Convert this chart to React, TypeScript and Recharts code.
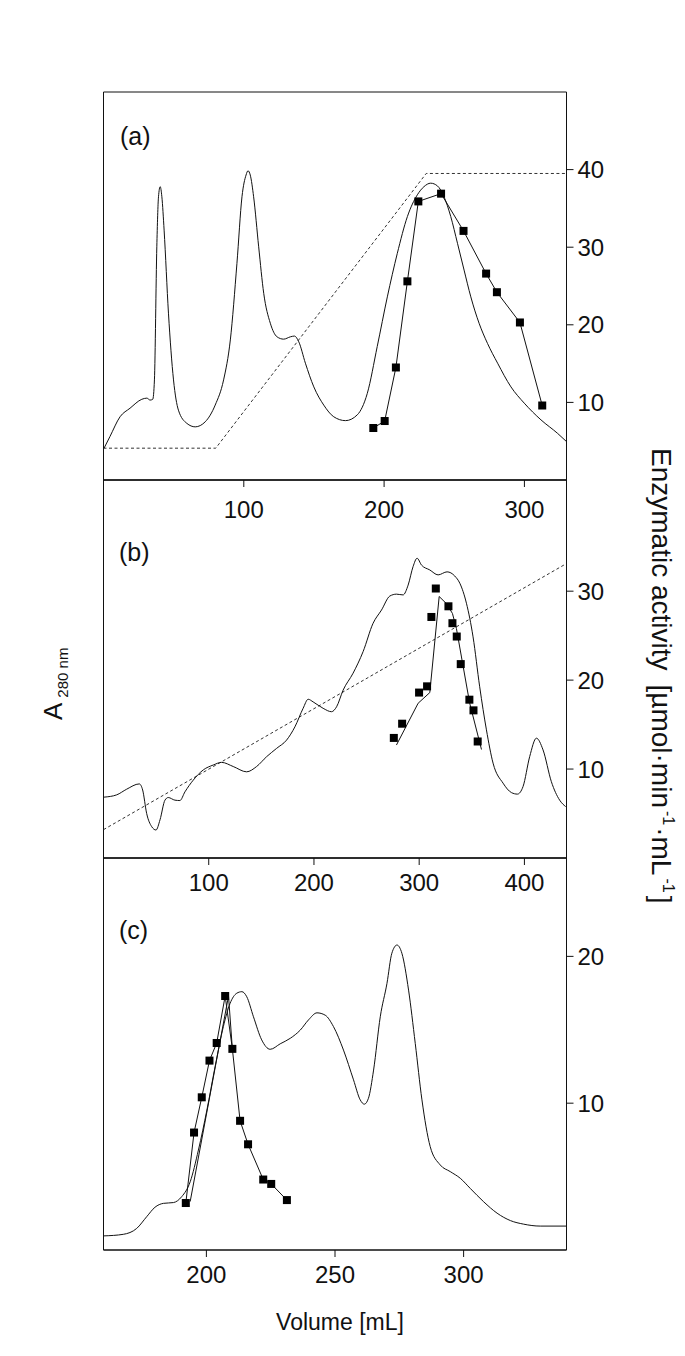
import React from 'react';
import { ComposedChart, Line, ReferenceArea, XAxis, YAxis } from 'recharts';

// ---- panel (a) ----
const volA = [0.4, 4.6, 11.8, 18.9, 27.3, 30.9, 33.2, 35.1, 36.3, 38, 39.2, 40.4, 41.6, 43.2, 46.3, 49.9, 53.4, 59.4, 65.4, 72.5, 79.6, 85.6, 90.4, 95.1, 98.7, 101.6, 103, 104.6, 107, 110.6, 114.2, 118.9, 123.7, 128.4, 133.2, 136.1, 139.2, 143.9, 149.9, 157, 164.1, 172.5, 180.9, 188, 195.1, 202.3, 209.4, 216.6, 223.7, 228.4, 233.2, 238, 242.7, 247.5, 252.3, 257, 261.8, 267.7, 273.7, 280.9, 290.4, 299.9, 311.8, 323.7, 330];
const absA = [8.2, 11.2, 16.3, 18.5, 20.8, 21.1, 20.6, 20.8, 25.8, 60.1, 73, 75.6, 73, 64.4, 43, 25.8, 18, 14.6, 13.7, 15, 19.3, 25.8, 36.1, 55.8, 73, 78.6, 79.7, 78.6, 73, 60.1, 48.1, 40.4, 36.9, 36.3, 36.9, 37.1, 35.6, 30.1, 24, 19.3, 16.3, 15.3, 16.8, 22.3, 34.4, 47.2, 58.4, 67.9, 73.5, 75.6, 76.5, 75.8, 73, 67.9, 61, 54.1, 47.2, 40.4, 35.2, 30.1, 24, 19.8, 15.5, 12, 9.9];
const gradVolA = [0, 80, 230, 330];
const gradA = [8.2, 8.2, 79, 79];
const actVolA = [192.3, 200.4, 208.4, 216.6, 224.4, 240.6, 256.6, 272.7, 280.4, 296.8, 312.7];
const actA = [6.7, 7.6, 14.5, 25.6, 35.9, 36.9, 32.1, 26.6, 24.2, 20.3, 9.6];

// ---- panel (b) ----
const volB = [0.5, 12.5, 22, 34, 37.2, 41, 45.8, 49.9, 53.7, 58.4, 61.5, 67.9, 72.6, 77.4, 85.3, 94.8, 104.3, 112.2, 123.3, 136, 145.5, 155, 164.5, 174, 181.9, 189.7, 194.5, 199.2, 208.7, 216.7, 221.5, 227.7, 237.2, 246.7, 256.2, 264.2, 272.1, 278.4, 284.7, 289.5, 294.2, 298, 302.2, 310.1, 318, 326.5, 333.8, 338.6, 344.9, 351.2, 357.5, 363.9, 370.2, 379.7, 387.7, 393.4, 398.7, 405, 411.4, 417.7, 425.6, 433.5, 439.2];
const absB = [16.1, 16.7, 18.2, 19.6, 18, 11.8, 8.3, 7.4, 10.1, 15.3, 16, 15.3, 15.2, 17.5, 20.6, 23.3, 24.6, 25.3, 24.2, 22.8, 24.2, 26.8, 29, 31.2, 34.7, 39.6, 42, 41.3, 39.6, 38.7, 40, 44.4, 48.9, 54.6, 62.1, 65.6, 69.3, 69.8, 69.6, 72.2, 77.1, 79.3, 77.5, 76.2, 74.9, 75.7, 74.6, 72.7, 67.4, 58.5, 45.3, 33.9, 25.1, 19.8, 17.3, 16.9, 18.9, 26.8, 31.7, 28.6, 20.2, 15.3, 13.6];
const gradVolB = [0, 440];
const gradB = [7.5, 77.9];
const actVolB = [275.9, 283.8, 299.9, 307.5, 311.6, 315.8, 327.8, 331.6, 335.7, 339.5, 347.7, 351.6, 355.6];
const actB = [13.5, 15.1, 18.6, 19.3, 27.1, 30.3, 28.3, 26.4, 24.9, 21.8, 17.8, 16.6, 13.1];
const fitVolB = [278.4, 299, 310.1, 319, 325.9, 331.6, 335.4, 340.2, 348, 359.2];
const fitB = [12.7, 17.4, 18.6, 29.4, 28.6, 27.5, 25.8, 22.6, 17.4, 12.2];

// ---- panel (c) ----
const volC = [160.2, 167.7, 172.9, 176.8, 180, 183.3, 187.2, 190.4, 193.7, 196.9, 200.2, 203.4, 206.6, 209.2, 211.8, 213.8, 215.7, 218.3, 221.5, 224.8, 228.7, 232.6, 236.5, 239.7, 243, 246.2, 249.4, 253.3, 257.2, 259.8, 261.4, 263, 265, 267.6, 270.2, 272.1, 274.1, 276, 278.6, 281.2, 283.8, 287, 290.9, 294.8, 298.7, 302.6, 307.8, 313, 318.2, 323.3, 329.8, 340];
const absC = [3.6, 4, 5.5, 8.5, 10.9, 11.9, 12.1, 13.6, 17.4, 25.5, 35.7, 46.8, 57, 62.9, 65.5, 65.9, 64.6, 59.5, 53.6, 51.2, 52.6, 54, 56.1, 58.7, 60.5, 59.9, 57, 51, 43.4, 38.3, 37.2, 38.7, 45.9, 59.5, 68, 75.7, 77.8, 75.7, 66.3, 52.7, 38.3, 26.4, 21.7, 20, 18.3, 15.7, 12.3, 9.4, 7.5, 6.6, 6.1, 6.1];
const actVolC = [192, 195.2, 198.2, 201.2, 204, 207.3, 210.1, 213.1, 216.2, 222.1, 225.2, 231.3];
const actC = [3.2, 8.0, 10.4, 12.9, 14.1, 17.3, 13.7, 8.8, 7.2, 4.8, 4.5, 3.4];
const fitVolC = [193.7, 208.6, 210.1];
const fitC = [3.3, 17.3, 13.7];

const xTicksA = [100, 200, 300];
const xTicksB = [100, 200, 300, 400];
const xTicksC = [200, 250, 300];
const yTicksA = [10, 20, 30, 40];
const yTicksB = [10, 20, 30];
const yTicksC = [10, 20];

const zip = (xs: number[], ys: number[]) => xs.map((x, i) => ({ x, y: ys[i] }));

const W = 685;
const H = 1356;
const PLOT_LEFT = 103.5;
const PLOT_RIGHT = 566.5;
const RIGHT_W = 60;
const XAXIS_H = 40;
const INK = '#111';
const FONT = '"Liberation Sans", Arial, Helvetica, sans-serif';

const Square = (props: any) => {
  const { cx, cy, index } = props;
  if (cx == null || cy == null) return null;
  return <rect key={`sq-${index}`} x={cx - 4} y={cy - 4} width={8} height={8} fill="#000" />;
};

interface PanelProps {
  top: number;
  bottom: number;
  xDomain: [number, number];
  xTicks: number[];
  yMax: number;
  yTicks: number[];
  tickMargin: number;
  trace: { x: number; y: number }[];
  gradient?: { x: number; y: number }[];
  activity: { x: number; y: number }[];
  connect: boolean;
  fit?: { x: number; y: number }[];
}

function Panel(p: PanelProps) {
  return (
    <div style={{ position: 'absolute', left: 0, top: 0 }}>
      <ComposedChart
        width={W}
        height={H}
        margin={{ top: p.top, right: W - PLOT_RIGHT - RIGHT_W, bottom: H - p.bottom - XAXIS_H, left: PLOT_LEFT }}
      >
        <XAxis
          xAxisId="x"
          type="number"
          dataKey="x"
          domain={p.xDomain}
          ticks={p.xTicks}
          allowDataOverflow
          height={XAXIS_H}
          tickSize={7}
          tickMargin={p.tickMargin}
          axisLine={{ stroke: INK }}
          tickLine={{ stroke: INK }}
          tick={{ fontSize: 24, fill: INK, fontFamily: FONT }}
        />
        <YAxis yAxisId="abs" hide type="number" domain={[0, 100]} allowDataOverflow />
        <YAxis
          yAxisId="act"
          orientation="right"
          type="number"
          domain={[0, p.yMax]}
          ticks={p.yTicks}
          allowDataOverflow
          width={RIGHT_W}
          tickSize={7}
          tickMargin={4}
          axisLine={{ stroke: INK }}
          tickLine={{ stroke: INK }}
          tick={{ fontSize: 24, fill: INK, fontFamily: FONT, textAnchor: 'start' }}
        />
        {/* panel frame */}
        <ReferenceArea
          xAxisId="x"
          yAxisId="abs"
          x1={p.xDomain[0]}
          x2={p.xDomain[1]}
          y1={0}
          y2={100}
          fill="none"
          fillOpacity={0}
          stroke={INK}
          strokeWidth={1}
          strokeOpacity={1}
          ifOverflow="visible"
        />
        {p.gradient && (
          <Line data={p.gradient} dataKey="y" xAxisId="x" yAxisId="abs" type="linear" stroke="#333" strokeWidth={1} strokeDasharray="3 2.5" dot={false} activeDot={false} isAnimationActive={false} />
        )}
        <Line data={p.trace} dataKey="y" xAxisId="x" yAxisId="abs" type="monotone" stroke={INK} strokeWidth={1} dot={false} activeDot={false} isAnimationActive={false} />
        {p.fit && (
          <Line data={p.fit} dataKey="y" xAxisId="x" yAxisId="act" type="linear" stroke={INK} strokeWidth={1} dot={false} activeDot={false} isAnimationActive={false} />
        )}
        <Line
          data={p.activity}
          dataKey="y"
          xAxisId="x"
          yAxisId="act"
          type="linear"
          stroke={p.connect ? INK : 'none'}
          strokeWidth={p.connect ? 1 : 0}
          dot={Square}
          activeDot={false}
          isAnimationActive={false}
        />
      </ComposedChart>
    </div>
  );
}

export default function App() {
  return (
    <div style={{ position: 'absolute', left: 0, top: 0, width: W, height: H, background: '#fff' }}>
      <Panel
        top={92}
        bottom={480}
        xDomain={[0, 330]}
        xTicks={xTicksA}
        yMax={50}
        yTicks={yTicksA}
        tickMargin={14}
        trace={zip(volA, absA)}
        gradient={zip(gradVolA, gradA)}
        activity={zip(actVolA, actA)}
        connect
      />
      <Panel
        top={480}
        bottom={858}
        xDomain={[0, 440]}
        xTicks={xTicksB}
        yMax={42.5}
        yTicks={yTicksB}
        tickMargin={9}
        trace={zip(volB, absB)}
        gradient={zip(gradVolB, gradB)}
        activity={zip(actVolB, actB)}
        connect={false}
        fit={zip(fitVolB, fitB)}
      />
      <Panel
        top={858}
        bottom={1250}
        xDomain={[160, 340]}
        xTicks={xTicksC}
        yMax={26.7}
        yTicks={yTicksC}
        tickMargin={9}
        trace={zip(volC, absC)}
        activity={zip(actVolC, actC)}
        connect
        fit={zip(fitVolC, fitC)}
      />
      <svg width={W} height={H} style={{ position: 'absolute', left: 0, top: 0, pointerEvents: 'none' }} fontFamily={FONT} fill={INK}>
        <text x={120} y={145} fontSize={25}>(a)</text>
        <text x={119} y={561} fontSize={25}>(b)</text>
        <text x={119} y={939} fontSize={25}>(c)</text>
        <text x={340} y={1330} fontSize={23} textAnchor="middle">Volume [mL]</text>
        <g transform="translate(62, 720) rotate(-90)">
          <text x={0} y={0} fontSize={26}>
            A<tspan dx={5} dy={6} fontSize={15}>280 nm</tspan>
          </text>
        </g>
        <g transform="translate(652, 448) rotate(90)">
          <text x={0} y={0} fontSize={28}>
            Enzymatic activity<tspan dx={14}>[µmol·min</tspan>
            <tspan dx={3} dy={-11} fontSize={16}>-1</tspan>
            <tspan dx={2} dy={11}>·mL</tspan>
            <tspan dx={3} dy={-11} fontSize={16}>-1</tspan>
            <tspan dx={3} dy={11}>]</tspan>
          </text>
        </g>
      </svg>
    </div>
  );
}
